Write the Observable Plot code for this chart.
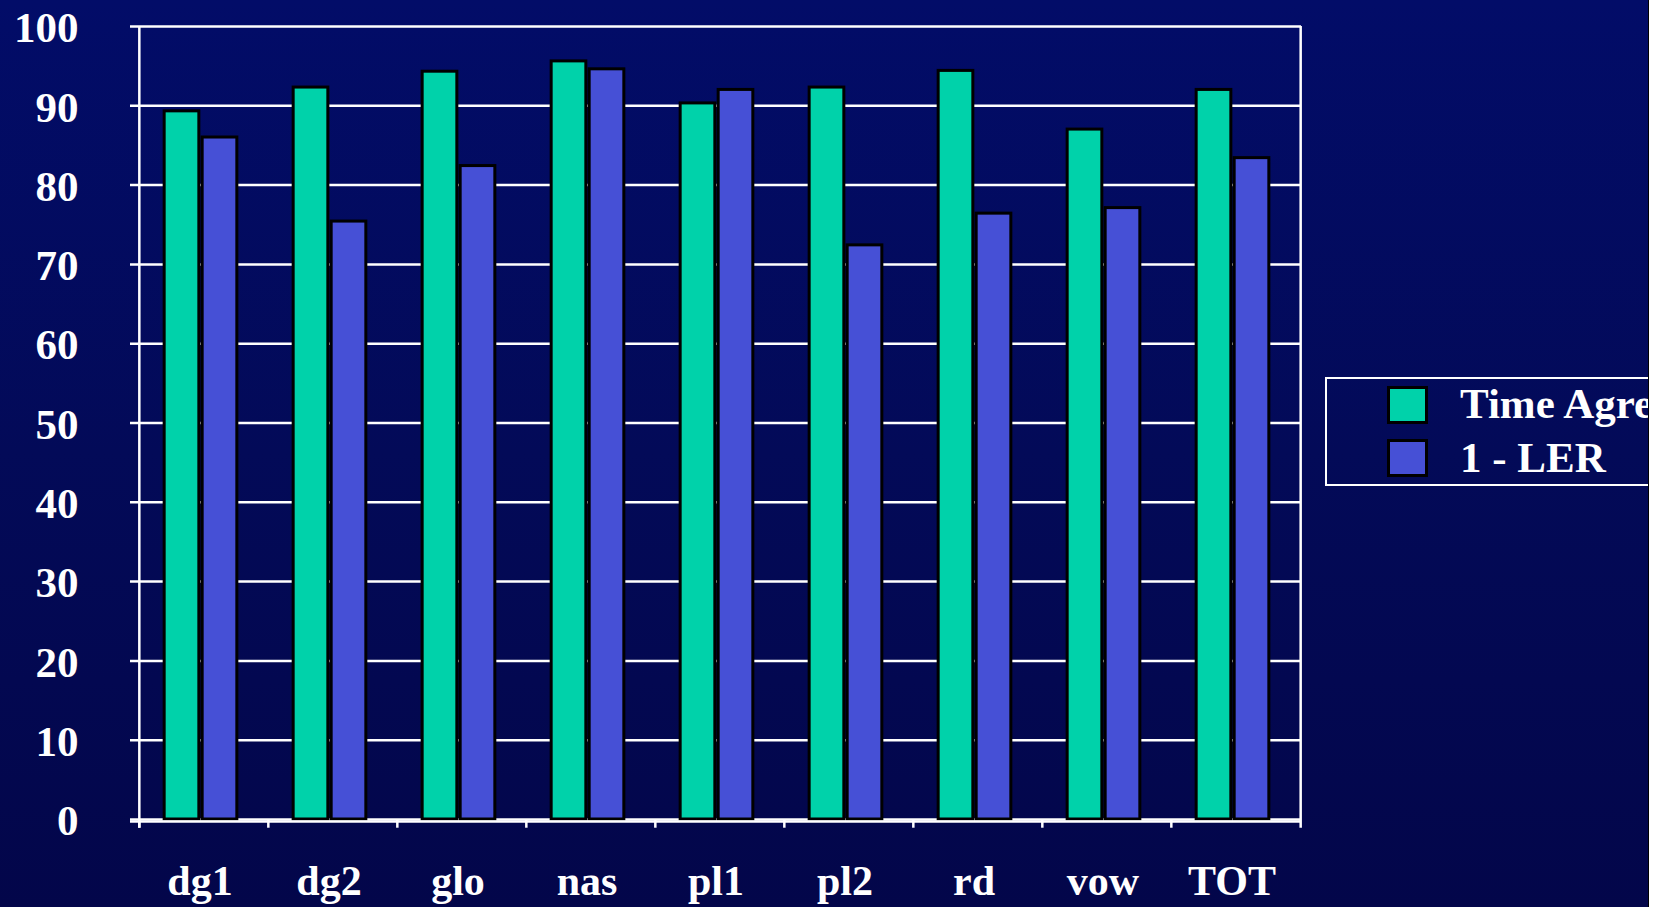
<!DOCTYPE html>
<html>
<head>
<meta charset="utf-8">
<script src="https://cdn.jsdelivr.net/npm/d3@7"></script>
<script src="https://cdn.jsdelivr.net/npm/@observablehq/plot@0.6"></script>
<style>
  html, body { margin: 0; padding: 0; background: #ffffff; }
  #slide {
    position: relative; width: 1648px; height: 907px; overflow: hidden;
    border-right: 1px solid #000;
    background: linear-gradient(to bottom, #020c68 0%, #030a58 50%, #03064a 100%);
    font-family: "Liberation Serif", "Times New Roman", serif; font-weight: bold; color: #fff;
  }
  #chart svg { display: block; }
  .legend-box { position: absolute; left: 1325px; top: 377px; width: 420px; height: 109px;
    border: 2.5px solid #fff; box-sizing: border-box; }
  .sw { position: absolute; left: 1387px; width: 41px; height: 38px; border: 3px solid #000; box-sizing: border-box; }
  .lt { position: absolute; left: 1460px; font-size: 43px; line-height: 1; white-space: nowrap; }
</style>
</head>
<body>
<div id="slide">
  <div id="chart"></div>
  <div class="legend-box"></div>
  <div id="legend-items"></div>
</div>
<script>
const categories = ["dg1", "dg2", "glo", "nas", "pl1", "pl2", "rd", "vow", "TOT"];
const timeAgreement = [89.3, 92.3, 94.3, 95.6, 90.3, 92.3, 94.4, 87.0, 92.0];
const oneMinusLER = [86.0, 75.4, 82.4, 94.6, 92.0, 72.4, 76.4, 77.1, 83.4];
const seriesNames = ["Time Agreement", "1 - LER"];
const seriesColors = ["#00d2aa", "#4650d6"];
const yTicks = [0, 10, 20, 30, 40, 50, 60, 70, 80, 90, 100];

const W = 1648, H = 907, mL = 137, mR = 347, mT = 26, mB = 88;
const bw = (W - mL - mR) / categories.length;
const half = bw / 2;

const greenData = categories.map((c, i) => ({cat: c, value: timeAgreement[i]}));
const blueData = categories.map((c, i) => ({cat: c, value: oneMinusLER[i]}));

const font = {fill: "white", fontWeight: "bold", fontFamily: "Liberation Serif"};

const chart = Plot.plot({
  width: W, height: H,
  marginLeft: mL, marginRight: mR, marginTop: mT, marginBottom: mB,
  style: {background: "transparent", overflow: "visible", color: "white"},
  x: {type: "band", domain: categories, padding: 0, axis: null},
  y: {domain: [0, 100], axis: null},
  marks: [
    Plot.ruleY(yTicks, {y: d => d, stroke: "white", strokeWidth: 2.5, insetLeft: -7}),
    Plot.ruleX([categories[0]], {x: d => d, dx: -half, y1: -1.1, y2: 100, stroke: "white", strokeWidth: 2.5}),
    Plot.ruleX([categories[categories.length - 1]], {x: d => d, dx: half, y1: -1.1, y2: 100, stroke: "white", strokeWidth: 2.5}),
    Plot.ruleX(categories, {x: d => d, dx: -half, y1: 0, y2: -1.1, stroke: "white", strokeWidth: 2.5}),
    Plot.barY(greenData, {x: "cat", y: "value", fill: seriesColors[0], stroke: "black", strokeWidth: 3,
      insetLeft: half - 39.5, insetRight: half + 4.5}),
    Plot.barY(blueData, {x: "cat", y: "value", fill: seriesColors[1], stroke: "black", strokeWidth: 3,
      insetLeft: half - 1.5, insetRight: half - 33.5}),
    Plot.ruleY([0], {y: d => d, stroke: "white", strokeWidth: 2.5, insetLeft: -7, dy: 2}),
    Plot.text(yTicks, {y: d => d, text: d => String(d), frameAnchor: "left", textAnchor: "end",
      dx: -59, dy: 2, fontSize: 43, ...font}),
    Plot.text(categories, {x: d => d, text: d => d, frameAnchor: "bottom", lineAnchor: "top",
      dy: 46, dx: -4, fontSize: 42, ...font})
  ]
});
document.getElementById("chart").appendChild(chart);

const li = document.getElementById("legend-items");
const swTops = [386, 439], txtTops = [382, 436];
seriesNames.forEach((name, i) => {
  const s = document.createElement("div");
  s.className = "sw"; s.style.top = swTops[i] + "px"; s.style.background = seriesColors[i];
  li.appendChild(s);
  const t = document.createElement("div");
  t.className = "lt"; t.style.top = txtTops[i] + "px"; t.textContent = name;
  li.appendChild(t);
});
</script>
</body>
</html>
